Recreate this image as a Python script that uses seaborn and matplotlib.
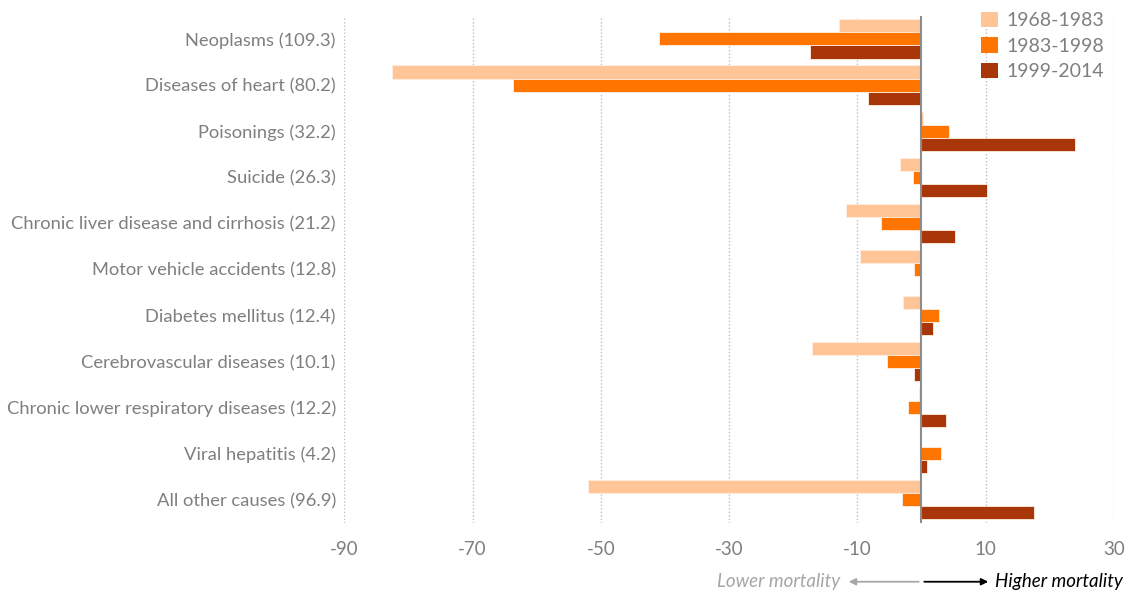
import matplotlib
matplotlib.use("Agg")
import matplotlib.pyplot as plt
import seaborn as sns
import pandas as pd
from matplotlib.patches import Patch

categories = [
    "Neoplasms (109.3)",
    "Diseases of heart (80.2)",
    "Poisonings (32.2)",
    "Suicide (26.3)",
    "Chronic liver disease and cirrhosis (21.2)",
    "Motor vehicle accidents (12.8)",
    "Diabetes mellitus (12.4)",
    "Cerebrovascular diseases (10.1)",
    "Chronic lower respiratory diseases (12.2)",
    "Viral hepatitis (4.2)",
    "All other causes (96.9)",
]
periods = ["1968-1983", "1983-1998", "1999-2014"]
vals_1968 = [-12.9, -82.6, 0.3, -3.4, -11.8, -9.6, -2.9, -17.1, -0.3, -0.1, -52.0]
vals_1983 = [-40.9, -63.7, 4.3, -1.3, -6.3, -1.2, 2.7, -5.4, -2.1, 3.0, -3.0]
vals_1999 = [-17.4, -8.3, 23.9, 10.2, 5.2, -0.1, 1.8, -1.2, 3.8, 0.9, 17.5]
xticks = [-90, -70, -50, -30, -10, 10, 30]

colors = ["#FFC596", "#FF7500", "#A93608"]

rows = []
for p, vals in zip(periods, [vals_1968, vals_1983, vals_1999]):
    for c, v in zip(categories, vals):
        rows.append({"cause": c, "period": p, "change": v})
df = pd.DataFrame(rows)

sns.set_theme(style="white")
plt.rcParams["font.family"] = ["Lato", "DejaVu Sans"]

fig = plt.figure(figsize=(11.25, 5.9), dpi=100)
ax = fig.add_axes([0.306, 0.114, 0.684, 0.859])

sns.barplot(data=df, y="cause", x="change", hue="period", order=categories,
            hue_order=periods, palette=colors, orient="h", width=0.85,
            saturation=1, edgecolor="#FFEFE3", linewidth=0.6, ax=ax,
            legend=False, errorbar=None)

ax.set_xlim(-90, 30)
ax.set_ylim(len(categories) - 0.5, -0.5)
ax.set_xticks(xticks)
ax.set_xticklabels([str(t) for t in xticks])
ax.set_xlabel("")
ax.set_ylabel("")
for s in ax.spines.values():
    s.set_visible(False)
ax.grid(False)
for t in xticks:
    ax.axvline(t, color="#BFBFBF", linestyle=(0, (1, 1.5)), linewidth=1.0, zorder=0)
ax.axvline(0, color="#8C8C8C", linewidth=1.5, zorder=3)
ax.tick_params(axis="x", colors="#7F7F7F", labelsize=13.5, length=0, pad=13)
ax.tick_params(axis="y", colors="#7F7F7F", labelsize=13.2, length=0, pad=6)

handles = [Patch(facecolor=c, edgecolor="none") for c in colors]
leg = fig.legend(handles, periods, loc="upper right", bbox_to_anchor=(0.997, 1.01),
                 frameon=False, fontsize=14, handlelength=0.85, handleheight=0.85,
                 handletextpad=0.45, labelspacing=0.42, labelcolor="#7F7F7F")

# bottom annotation
y_ann = 0.0
x0 = 921.5 / 1125
fig.text(840 / 1125, y_ann, "Lower mortality", ha="right", va="bottom",
         style="italic", color="#A6A6A6", fontsize=13.5)
fig.text(995 / 1125, y_ann, "Higher mortality", ha="left", va="bottom",
         style="italic", color="black", fontsize=13.5)
ya = y_ann + 0.014
fig.patches.append(matplotlib.patches.FancyArrowPatch(
    (x0, ya), (846 / 1125, ya), transform=fig.transFigure,
    arrowstyle="-|>", mutation_scale=10, color="#A6A6A6", linewidth=1.3))
fig.patches.append(matplotlib.patches.FancyArrowPatch(
    (x0, ya), (991 / 1125, ya), transform=fig.transFigure,
    arrowstyle="-|>", mutation_scale=10, color="black", linewidth=1.3))

fig.savefig("out.png", dpi=100)
